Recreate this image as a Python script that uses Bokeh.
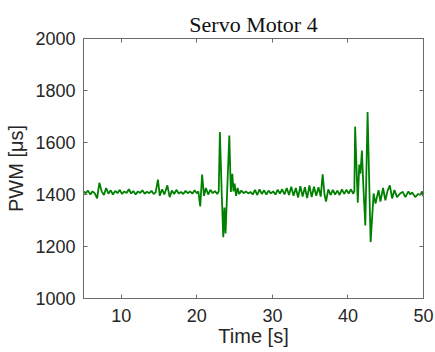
from bokeh.plotting import figure
from bokeh.models import LinearAxis, FixedTicker, Range1d
from bokeh.embed import file_html
from bokeh.resources import INLINE

# ---- data ----
time_s = [5.0, 5.3, 5.6, 5.9, 6.2, 6.5, 6.8, 7.1, 7.4, 7.7, 8.0, 8.3, 8.6, 8.9, 9.2, 9.5, 9.8,
          10.1, 10.4, 10.7, 11.0, 11.3, 11.6, 11.9, 12.2, 12.5, 12.8, 13.1, 13.4, 13.7, 14.0,
          14.3, 14.55, 14.85, 15.1, 15.4, 15.7, 16.1, 16.4, 16.7, 17.0, 17.3, 17.6, 17.9, 18.2,
          18.5, 18.8, 19.1, 19.4, 19.7, 20.0, 20.2, 20.45, 20.7, 20.95, 21.2, 21.5, 21.8, 22.1,
          22.4, 22.7, 22.9, 23.05, 23.3, 23.5, 23.65, 23.8, 24.05, 24.3, 24.5, 24.7, 24.85, 25.0,
          25.2, 25.4, 25.6, 25.9, 26.2, 26.5, 26.8, 27.1, 27.4, 27.7, 28.0, 28.3, 28.6, 28.9,
          29.2, 29.5, 29.8, 30.1, 30.4, 30.7, 31.0, 31.3, 31.6, 31.9, 32.2, 32.5, 32.8, 33.1,
          33.4, 33.7, 34.0, 34.3, 34.6, 34.9, 35.2, 35.5, 35.8, 36.1, 36.4, 36.65, 36.9, 37.1,
          37.4, 37.7, 38.0, 38.3, 38.6, 38.9, 39.2, 39.5, 39.8, 40.1, 40.4, 40.7, 40.85, 40.95,
          41.3, 41.5, 41.65, 41.85, 42.05, 42.3, 42.6, 43.0, 43.4, 43.65, 44.05, 44.3, 44.65,
          44.95, 45.25, 45.55, 45.85, 46.15, 46.5, 46.9, 47.25, 47.6, 48.0, 48.25, 48.5, 48.9,
          49.3, 49.6, 49.8, 50.0]

pwm_us = [1412, 1405, 1415, 1400, 1412, 1404, 1385, 1445, 1412, 1398, 1425, 1403, 1416, 1400,
          1414, 1405, 1418, 1402, 1412, 1406, 1420, 1404, 1413, 1400, 1412, 1406, 1416, 1403,
          1411, 1405, 1414, 1402, 1408, 1457, 1395, 1420, 1400, 1435, 1390, 1415, 1402, 1418,
          1404, 1410, 1402, 1414, 1405, 1412, 1403, 1416, 1405, 1412, 1354, 1477, 1395, 1425,
          1400, 1418, 1405, 1413, 1402, 1412, 1640, 1400, 1236, 1350, 1250, 1440, 1627, 1410,
          1480, 1412, 1442, 1395, 1425, 1402, 1415, 1405, 1412, 1404, 1410, 1400, 1418, 1398,
          1420, 1402, 1416, 1400, 1415, 1404, 1412, 1400, 1418, 1404, 1420, 1400, 1425, 1398,
          1430, 1395, 1425, 1388, 1432, 1392, 1428, 1386, 1435, 1390, 1430, 1395, 1428, 1392,
          1478, 1400, 1373, 1420, 1398, 1418, 1400, 1415, 1398, 1420, 1402, 1418, 1404, 1420,
          1403, 1412, 1661, 1368, 1515, 1480, 1569, 1425, 1281, 1717, 1217, 1404, 1365, 1417,
          1373, 1425, 1378, 1415, 1435, 1385, 1417, 1390, 1404, 1410, 1390, 1412, 1400, 1408,
          1390, 1402, 1398, 1412, 1392]

x_ticks = [10, 20, 30, 40, 50]
y_ticks = [1000, 1200, 1400, 1600, 1800, 2000]
title_text = "Servo Motor 4"
x_label = "Time [s]"
y_label = "PWM [μs]"

AX = "#6b6b6b"
TXT = "#262626"
SANS = "Liberation Sans"

p = figure(width=435, height=352, output_backend="svg", toolbar_location=None,
           x_range=Range1d(5, 50), y_range=Range1d(1000, 2000),
           min_border_left=83, min_border_right=12, min_border_top=38, min_border_bottom=54,
           background_fill_color="white", border_fill_color="white",
           title=title_text)
p.xgrid.visible = False
p.ygrid.visible = False
p.outline_line_color = AX

p.title.align = "center"
p.title.text_font = "Liberation Serif"
p.title.text_font_size = "22px"
p.title.text_font_style = "normal"
p.title.text_color = "#111111"
p.title.standoff = 3
p.title.offset = -3

p.line(time_s, pwm_us, line_color="#008000", line_width=1.8)

def style(ax, ticks, show_labels):
    ax.ticker = FixedTicker(ticks=ticks)
    ax.axis_line_color = AX
    ax.major_tick_line_color = AX
    ax.major_tick_in = 4
    ax.major_tick_out = 0
    ax.minor_tick_line_color = None
    if show_labels:
        ax.major_label_text_font = SANS
        ax.major_label_text_font_size = "18px"
        ax.major_label_text_color = TXT
        ax.axis_label_text_font = SANS
        ax.axis_label_text_font_size = "20px"
        ax.axis_label_text_font_style = "normal"
        ax.axis_label_text_color = TXT
    else:
        ax.major_label_text_font_size = "0px"
        ax.major_label_text_color = None
        ax.major_label_standoff = 0

style(p.xaxis[0], x_ticks, True)
style(p.yaxis[0], y_ticks, True)
p.xaxis[0].major_label_standoff = 10
p.xaxis[0].axis_label = x_label
p.xaxis[0].axis_label_standoff = 0
p.yaxis[0].major_label_standoff = 8
p.yaxis[0].axis_label = y_label
p.yaxis[0].axis_label_standoff = 5

top_ax = LinearAxis()
style(top_ax, x_ticks, False)
p.add_layout(top_ax, "above")
right_ax = LinearAxis()
style(right_ax, y_ticks, False)
p.add_layout(right_ax, "right")

open("out.html", "w").write(file_html(p, INLINE))
